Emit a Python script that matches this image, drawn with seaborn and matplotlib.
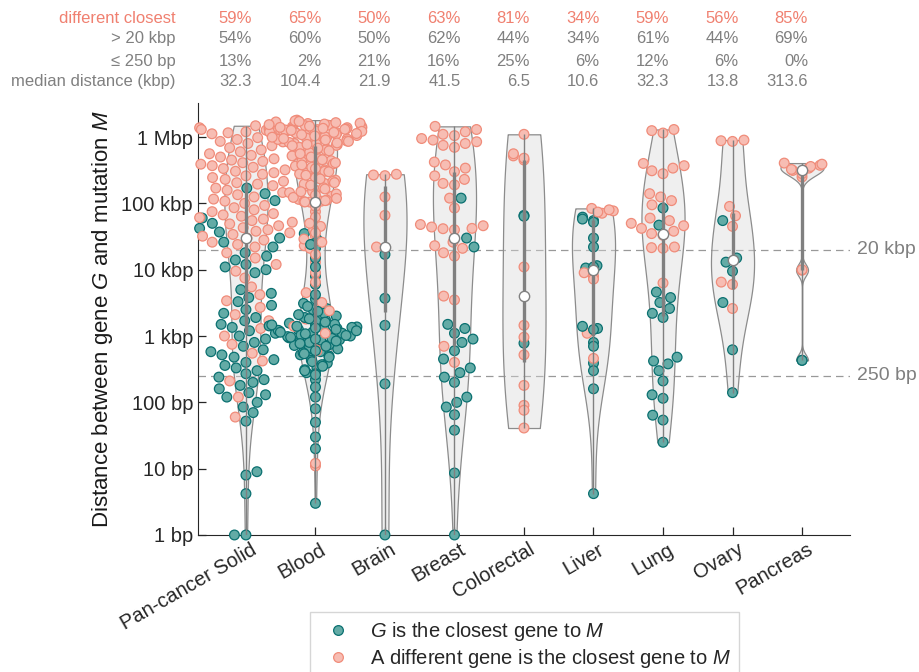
import numpy as np
import pandas as pd
import matplotlib
matplotlib.use("Agg")
import matplotlib.pyplot as plt
import matplotlib.ticker as mticker
import matplotlib.transforms as mtransforms
from matplotlib.lines import Line2D
import seaborn as sns

sns.set_style("ticks")
plt.rcParams["font.family"] = ["Liberation Sans", "DejaVu Sans"]
plt.rcParams["mathtext.fontset"] = "custom"
plt.rcParams["mathtext.rm"] = "Liberation Sans"
plt.rcParams["mathtext.it"] = "Liberation Sans:italic"
plt.rcParams["mathtext.sf"] = "Liberation Sans"

# categories and the table above the plot
categories = ["Pan-cancer Solid", "Blood", "Brain", "Breast", "Colorectal",
              "Liver", "Lung", "Ovary", "Pancreas"]
row_labels = ["different closest", "> 20 kbp", "≤ 250 bp", "median distance (kbp)"]
pct_diff = ["59%", "65%", "50%", "63%", "81%", "34%", "59%", "56%", "85%"]
pct_20k = ["54%", "60%", "50%", "62%", "44%", "34%", "61%", "44%", "69%"]
pct_250 = ["13%", "2%", "21%", "16%", "25%", "6%", "12%", "6%", "0%"]
median_kbp = ["32.3", "104.4", "21.9", "41.5", "6.5", "10.6", "32.3", "13.8", "313.6"]

# distances (kbp)
# "same" = G is the closest gene, "diff" = a different gene is closest
pan_same = [170, 140, 110, 60, 50, 42, 37, 30, 26, 22,
            18, 16, 14, 12, 11, 10, 9,
            5.0, 4.4, 3.8, 3.3, 2.9, 2.5, 2.2, 1.9, 1.7, 1.5, 1.35, 1.2, 1.1, 1.0, 0.9, 0.8, 0.7,
            0.62, 0.58, 0.52, 0.48, 0.44, 0.4, 0.36, 0.33, 0.3, 0.27,
            0.24, 0.22, 0.2, 0.18, 0.16, 0.14, 0.13, 0.12, 0.1, 0.085, 0.07, 0.052,
            0.009, 0.008, 0.0042, 0.001, 0.001]
pan_diff = [1480, 1420, 1380, 1340, 1300, 1270, 1240, 1200, 1160, 1120,
            1050, 980, 920, 860, 800, 740, 690, 640, 600, 560, 530, 500, 470,
            450, 430, 410, 390, 370, 350, 335, 320, 305, 290, 275, 260, 245, 230, 215, 205, 195,
            185, 170, 158, 146, 135, 125, 116, 108, 100, 93, 86, 80, 75, 70, 67, 64,
            61, 58, 55, 52, 49, 46, 43, 40, 38, 36, 34, 32, 30, 28, 26, 24, 22,
            18, 15, 12, 9.5, 7.5, 5.5, 4.2,
            3.4, 2.7, 2.1, 1.7, 1.3, 1.0, 0.75,
            0.55, 0.42, 0.21, 0.12, 0.06]

blood_same = [35, 28, 24, 21, 15, 11, 8, 6,
              4.2, 3.6, 3.1, 2.8, 2.6, 2.5, 2.35, 2.3, 2.2,
              2.1, 2.0, 1.9, 1.82, 1.75,
              1.68, 1.62, 1.56, 1.5, 1.47, 1.45,
              1.42, 1.4, 1.37, 1.35, 1.32, 1.3, 1.28, 1.26, 1.24, 1.22,
              1.2, 1.18, 1.16, 1.14, 1.12, 1.1, 1.08, 1.06, 1.04, 1.02,
              1.0, 0.98, 0.96, 0.94, 0.92, 0.9, 0.88, 0.87, 0.84, 0.82,
              0.8, 0.77, 0.74, 0.72, 0.7, 0.67, 0.64, 0.6, 0.58,
              0.56, 0.54, 0.52, 0.5, 0.48, 0.46, 0.43, 0.41, 0.39, 0.37,
              0.35, 0.33, 0.31, 0.3, 0.28, 0.27, 0.26,
              0.22, 0.17, 0.12, 0.08, 0.05, 0.03, 0.02, 0.003]
blood_diff = [1800, 1760, 1720, 1690, 1650, 1620, 1600, 1570, 1540, 1510,
              1480, 1460, 1430, 1415, 1400, 1385, 1370, 1355, 1340, 1325,
              1310, 1295, 1280, 1265, 1250, 1235, 1220, 1205, 1190, 1175,
              1160, 1145, 1130, 1115, 1100, 1085, 1070, 1055, 1040, 1025,
              1010, 995, 980, 965, 950, 935, 920, 905, 890, 875,
              860, 845, 830, 815, 800, 790, 775, 765, 750, 740,
              725, 700, 680, 660, 640, 620, 600, 580, 560, 540,
              520, 500, 485, 470, 455,
              440, 425, 410, 400, 395, 380, 365, 350, 335, 320, 305, 300,
              290, 278, 266, 255, 244, 234, 224, 214, 205, 200, 196,
              188, 180, 172, 165, 158, 151, 150, 145, 139, 133, 128,
              123, 119, 115, 112, 110, 108, 106, 105, 104.6, 104.4,
              90, 75, 62, 50, 45, 40, 36, 32, 29, 26, 23, 21,
              17, 13, 9, 6.5, 4.5, 3.2, 2.4, 1.8, 1.4, 1.1, 0.85, 0.6, 0.012, 0.011]

brain_same = [17, 3.7, 1.45, 0.19, 0.001]
brain_diff = [275, 268, 262, 125, 66, 22]

breast_same = [120, 30, 22, 1.5, 1.3, 1.1, 0.9, 0.8, 0.6, 0.45, 0.33, 0.28,
               0.24, 0.2, 0.12, 0.1, 0.085, 0.065, 0.038, 0.0086, 0.001]
breast_diff = [1450, 1300, 1200, 1100, 1050, 950, 900, 850, 800, 750, 700,
               420, 380, 340, 300, 260, 230, 200, 190, 120, 85,
               48, 46, 44, 42, 41.5, 40, 26, 23, 21,
               18, 16, 4, 3.5, 0.7, 0.4]

colorectal_same = [66, 64, 0.78]
colorectal_diff = [1100, 560, 520, 480, 450, 11, 1.45, 0.96, 0.52, 0.18, 0.09, 0.076, 0.041]

liver_same = [62, 58, 55, 52, 30, 22, 11.5, 11, 10.6, 1.4, 1.3, 1.25,
              0.8, 0.7, 0.39, 0.3, 0.16, 0.0042]
liver_diff = [84, 80, 77, 74, 71, 9.0, 8.0, 7.2, 1.1, 0.46]

lung_same = [85, 47, 4.6, 3.8, 3.2, 2.6, 2.2, 1.9, 0.48, 0.42, 0.38, 0.3,
             0.21, 0.13, 0.115, 0.064, 0.054, 0.025]
lung_diff = [1300, 1250, 1150, 400, 370, 340, 310, 280, 140, 125, 110, 95,
             60, 55, 50, 46, 42, 38, 35, 33, 22, 21.5, 21, 6.3]

ovary_same = [55, 15, 13, 9.5, 3.2, 0.62, 0.14]
ovary_diff = [900, 880, 860, 90, 65, 45, 6.5, 6.0, 2.6]

pancreas_same = [0.43, 0.43]
pancreas_diff = [405, 390, 375, 360, 340, 325, 313.6, 280, 250, 10, 9.8]

same_kbp = [pan_same, blood_same, brain_same, breast_same, colorectal_same,
            liver_same, lung_same, ovary_same, pancreas_same]
diff_kbp = [pan_diff, blood_diff, brain_diff, breast_diff, colorectal_diff,
            liver_diff, lung_diff, ovary_diff, pancreas_diff]

ref_vals = [2e4, 250]
ref_labels = ["20 kbp", "250 bp"]
ytick_vals = [1, 10, 100, 1e3, 1e4, 1e5, 1e6]
ytick_labels = ["1 bp", "10 bp", "100 bp", "1 kbp", "10 kbp", "100 kbp", "1 Mbp"]

# how many overlapping swarms per violin (mimics the overlapping jitter)
n_layers = [1, 3, 1, 1, 2, 2, 1, 1, 2]

SAME = "same"
DIFF = "diff"
teal_face = (0.39, 0.67, 0.65)
teal_edge = (0.04, 0.44, 0.44)
salmon_face = (0.97, 0.74, 0.70)
salmon_edge = (0.94, 0.55, 0.48)
salmon_text = "#F08070"
grey_text = "#808080"

rows = []
for cat, same, diff in zip(categories, same_kbp, diff_kbp):
    for k, v in enumerate(same):
        rows.append((cat, SAME, v * 1000, k))
    for k, v in enumerate(diff):
        rows.append((cat, DIFF, v * 1000, k))
df = pd.DataFrame(rows, columns=["tissue", "group", "dist", "idx"])


def robust_bw(lv):
    # ksdensity-like bandwidth (MAD based), as a factor of the std
    sig = np.median(np.abs(lv - np.median(lv))) / 0.6745
    bw = max(sig * (4 / (3 * len(lv))) ** 0.2, 0.04)
    return bw / lv.std(ddof=1)


fig = plt.figure(figsize=(9.2, 6.72), dpi=100)
ax = fig.add_axes([0.2152, 0.2039, 0.7087, 0.6428])
ax.set_yscale("log")
step = 0.6

for i, cat in enumerate(categories):
    pos = i * step
    sub = df[df["tissue"] == cat].assign(pos=pos)

    for layer in range(n_layers[i]):
        part = sub[sub["idx"] % n_layers[i] == layer]
        n0 = len(ax.collections)
        sns.swarmplot(data=part, x="pos", y="dist", hue="group", hue_order=[SAME, DIFF],
                      palette={SAME: teal_face, DIFF: salmon_face}, size=7, linewidth=0.9,
                      native_scale=True, orient="x", legend=False, warn_thresh=1, ax=ax)
        for coll in ax.collections[n0:]:
            fc = coll.get_facecolors()
            is_teal = np.abs(fc[:, 0] - teal_face[0]) < 0.05
            ec = np.where(is_teal[:, None], np.array(teal_edge + (1,)), np.array(salmon_edge + (1,)))
            coll.set_edgecolors(ec)
            coll.set_clip_on(False)

    lv = np.log10(sub["dist"].to_numpy())
    n1 = len(ax.collections)
    sns.violinplot(data=sub, x="pos", y="dist", native_scale=True, orient="x",
                   inner=None, cut=0, density_norm="width", width=0.372,
                   bw_method=robust_bw(lv), gridsize=400, color=(0.85, 0.85, 0.85),
                   saturation=1, linecolor=(0.55, 0.55, 0.55), linewidth=0.9, ax=ax)
    for coll in ax.collections[n1:]:
        coll.set_facecolor((0.85, 0.85, 0.85, 0.4))

    lo, q1, med, q3, hi = 10 ** np.percentile(lv, [0, 25, 50, 75, 100])
    ax.vlines(pos, lo, hi, color="0.5", lw=1.0, zorder=3)
    ax.vlines(pos, q1, q3, color="0.5", lw=2.4, zorder=3)
    ax.scatter([pos], [med], s=55, facecolor="white", edgecolor="0.5", linewidth=1.0, zorder=4)

for val, lab in zip(ref_vals, ref_labels):
    ax.axhline(val, color="0.6", lw=0.9, ls=(0, (6, 4)), zorder=0.5)
    ax.text(1.011, val, lab, transform=ax.get_yaxis_transform(), ha="left", va="center",
            fontsize=14, color=grey_text)

ax.set_xlim(-0.414, (len(categories) - 1) * step + 0.414)
ax.set_ylim(1, 3.26e6)
ax.set_yticks(ytick_vals, ytick_labels)
ax.yaxis.set_minor_locator(mticker.NullLocator())
ax.set_xticks([i * step for i in range(len(categories))], categories, rotation=30, ha="right")
ax.tick_params(direction="in", length=6, width=0.9, labelsize=14.5, colors="0.15")
ax.set_xlabel("")
ax.set_ylabel(r"Distance between gene $G$ and mutation $M$", fontsize=16, labelpad=5, color="0.1")
sns.despine(ax=ax)
for sp in ["left", "bottom"]:
    ax.spines[sp].set_color("0.15")
for lab in ax.get_xticklabels():
    lab.set_transform(lab.get_transform() + mtransforms.ScaledTranslation(0.14, 0, fig.dpi_scale_trans))

# table of summary numbers above the plot
row_y = [0.973, 0.942, 0.909, 0.878]
row_vals = [pct_diff, pct_20k, pct_250, median_kbp]
row_colors = [salmon_text, grey_text, grey_text, grey_text]
col_trans = (mtransforms.blended_transform_factory(ax.transData, fig.transFigure)
             + mtransforms.ScaledTranslation(0.06, 0, fig.dpi_scale_trans))
for y, label, vals, col in zip(row_y, row_labels, row_vals, row_colors):
    fig.text(0.1913, y, label, ha="right", va="center", fontsize=12, color=col)
    for i, v in enumerate(vals):
        ax.text(i * step, y, v, transform=col_trans, ha="right", va="center",
                fontsize=12, color=col, clip_on=False)

handles = [
    Line2D([], [], ls="none", marker="o", ms=7, mfc=teal_face, mec=teal_edge, mew=0.9,
           label=r"$G$ is the closest gene to $M$"),
    Line2D([], [], ls="none", marker="o", ms=7, mfc=salmon_face, mec=salmon_edge, mew=0.9,
           label=r"A different gene is the closest gene to $M$"),
]
fig.legend(handles=handles, loc="upper center", bbox_to_anchor=(0.57, 0.089), frameon=True,
           fancybox=False, edgecolor="0.8", fontsize=14.5, handletextpad=0.6,
           borderpad=0.4, labelspacing=0.2, handlelength=2, borderaxespad=0)

fig.savefig("out.png", dpi=100)
